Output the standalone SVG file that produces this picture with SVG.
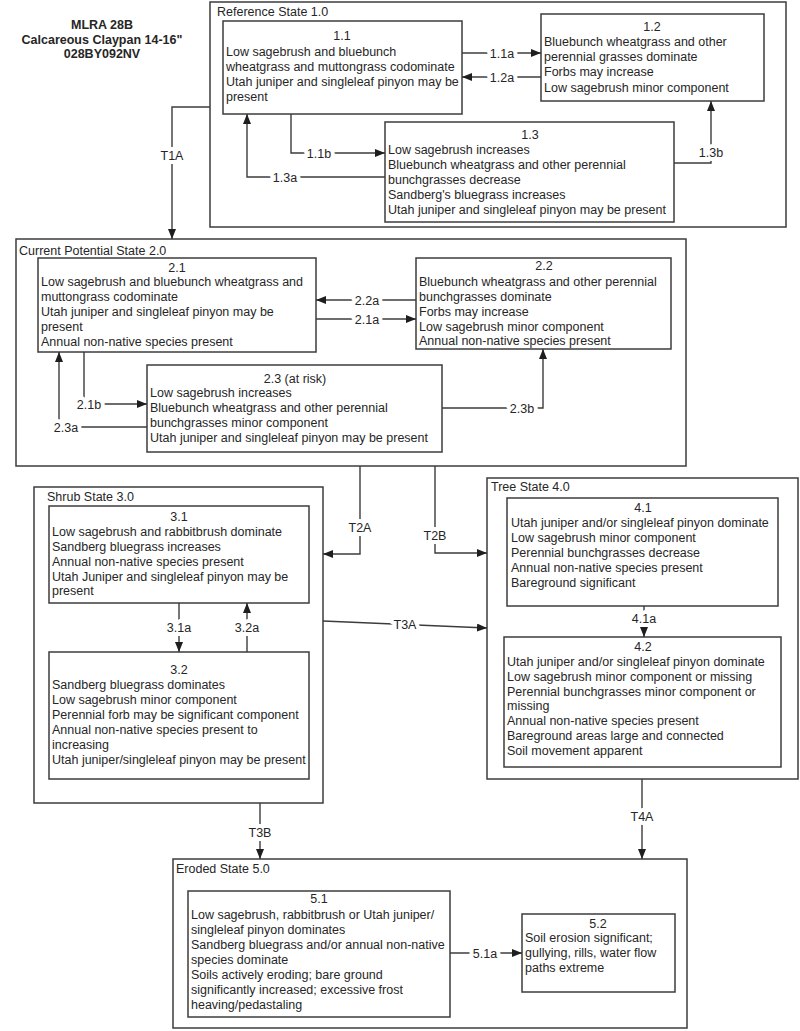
<svg xmlns="http://www.w3.org/2000/svg" width="800" height="1031" viewBox="0 0 800 1031">
<style>
  .bg{fill:#fff}
  .state{fill:#fff;stroke:#3c3c3c;stroke-width:1.5}
  .box{fill:#fff;stroke:#3c3c3c;stroke-width:1.5}
  text{font-family:"Liberation Sans",Arial,Helvetica,sans-serif;font-size:12.5px;fill:#262626}
  .mid{text-anchor:middle}
  .title{font-weight:bold;text-anchor:middle}
  .lbl{text-anchor:middle;stroke:#fff;stroke-width:8px;paint-order:stroke;stroke-linejoin:round}
  .con{fill:none;stroke:#3c3c3c;stroke-width:1.4}
  .arr{fill:none;stroke:#3c3c3c;stroke-width:1.4;marker-end:url(#ah)}
</style>
<defs>
  <marker id="ah" viewBox="0 0 10 8" refX="10" refY="4" markerWidth="10" markerHeight="8" markerUnits="userSpaceOnUse" orient="auto">
    <path d="M0,0 L10,4 L0,8 Z" fill="#1e1e1e"/>
  </marker>
</defs>
<rect class="bg" x="0" y="0" width="800" height="1031"/>

<g id="title">
  <text class="title" x="102" y="29">MLRA 28B</text>
  <text class="title" x="102" y="44">Calcareous Claypan 14-16"</text>
  <text class="title" x="102" y="58">028BY092NV</text>
</g>

<!-- State containers -->
<g id="state1">
  <rect class="state" x="210" y="2" width="576" height="225"/>
  <text x="217" y="16">Reference State 1.0</text>
</g>
<g id="state2">
  <rect class="state" x="16" y="239" width="670" height="227"/>
  <text x="19" y="255">Current Potential State 2.0</text>
</g>
<g id="state3">
  <rect class="state" x="34" y="487" width="289" height="316"/>
  <text x="47" y="501">Shrub State 3.0</text>
</g>
<g id="state4">
  <rect class="state" x="487" y="478" width="311" height="301"/>
  <text x="491" y="491">Tree State 4.0</text>
</g>
<g id="state5">
  <rect class="state" x="173" y="859" width="514" height="169"/>
  <text x="176" y="873">Eroded State 5.0</text>
</g>

<!-- Community phases -->
<g id="n1_1">
  <rect class="box" x="223" y="21" width="239" height="93"/>
  <text class="mid" x="342" y="40">1.1</text>
  <text x="226" y="56">Low sagebrush and bluebunch</text>
  <text x="226" y="71">wheatgrass and muttongrass codominate</text>
  <text x="226" y="86">Utah juniper and singleleaf pinyon may be</text>
  <text x="226" y="101">present</text>
</g>
<g id="n1_2">
  <rect class="box" x="541" y="14" width="223" height="87"/>
  <text class="mid" x="652" y="31">1.2</text>
  <text x="544" y="46">Bluebunch wheatgrass and other</text>
  <text x="544" y="61">perennial grasses dominate</text>
  <text x="544" y="76">Forbs may increase</text>
  <text x="544" y="92">Low sagebrush minor component</text>
</g>
<g id="n1_3">
  <rect class="box" x="385" y="122" width="289" height="100"/>
  <text class="mid" x="530" y="139">1.3</text>
  <text x="388" y="154">Low sagebrush increases</text>
  <text x="388" y="169">Bluebunch wheatgrass and other perennial</text>
  <text x="388" y="184">bunchgrasses decrease</text>
  <text x="388" y="199">Sandberg's bluegrass increases</text>
  <text x="388" y="214">Utah juniper and singleleaf pinyon may be present</text>
</g>

<g id="n2_1">
  <rect class="box" x="38" y="258" width="278" height="94"/>
  <text class="mid" x="177" y="272">2.1</text>
  <text x="41" y="286">Low sagebrush and bluebunch wheatgrass and</text>
  <text x="41" y="301">muttongrass codominate</text>
  <text x="41" y="316">Utah juniper and singleleaf pinyon may be</text>
  <text x="41" y="331">present</text>
  <text x="41" y="346">Annual non-native species present</text>
</g>
<g id="n2_2">
  <rect class="box" x="416" y="258" width="255" height="91"/>
  <text class="mid" x="544" y="270">2.2</text>
  <text x="419" y="286">Bluebunch wheatgrass and other perennial</text>
  <text x="419" y="301">bunchgrasses dominate</text>
  <text x="419" y="316">Forbs may increase</text>
  <text x="419" y="331">Low sagebrush minor component</text>
  <text x="419" y="345">Annual non-native species present</text>
</g>
<g id="n2_3">
  <rect class="box" x="147" y="365" width="295" height="87"/>
  <text class="mid" x="295" y="383">2.3 (at risk)</text>
  <text x="150" y="397">Low sagebrush increases</text>
  <text x="150" y="412">Bluebunch wheatgrass and other perennial</text>
  <text x="150" y="427">bunchgrasses minor component</text>
  <text x="150" y="442">Utah juniper and singleleaf pinyon may be present</text>
</g>

<g id="n3_1">
  <rect class="box" x="49" y="506" width="260" height="97"/>
  <text class="mid" x="179" y="521">3.1</text>
  <text x="52" y="536">Low sagebrush and rabbitbrush dominate</text>
  <text x="52" y="551">Sandberg bluegrass increases</text>
  <text x="52" y="566">Annual non-native species present</text>
  <text x="52" y="581">Utah Juniper and singleleaf pinyon may be</text>
  <text x="52" y="595">present</text>
</g>
<g id="n3_2">
  <rect class="box" x="49" y="652" width="260" height="127"/>
  <text class="mid" x="179" y="674">3.2</text>
  <text x="52" y="689">Sandberg bluegrass dominates</text>
  <text x="52" y="704">Low sagebrush minor component</text>
  <text x="52" y="719">Perennial forb may be significant component</text>
  <text x="52" y="734">Annual non-native species present to</text>
  <text x="52" y="749">increasing</text>
  <text x="52" y="764">Utah juniper/singleleaf pinyon may be present</text>
</g>

<g id="n4_1">
  <rect class="box" x="507" y="498" width="271" height="108"/>
  <text class="mid" x="643" y="512">4.1</text>
  <text x="511" y="527">Utah juniper and/or singleleaf pinyon dominate</text>
  <text x="511" y="542">Low sagebrush minor component</text>
  <text x="511" y="557">Perennial bunchgrasses decrease</text>
  <text x="511" y="572">Annual non-native species present</text>
  <text x="511" y="587">Bareground significant</text>
</g>
<g id="n4_2">
  <rect class="box" x="504" y="637" width="277" height="130"/>
  <text class="mid" x="643" y="651">4.2</text>
  <text x="507" y="666">Utah juniper and/or singleleaf pinyon dominate</text>
  <text x="507" y="681">Low sagebrush minor component or missing</text>
  <text x="507" y="696">Perennial bunchgrasses minor component or</text>
  <text x="507" y="710">missing</text>
  <text x="507" y="725">Annual non-native species present</text>
  <text x="507" y="740">Bareground areas large and connected</text>
  <text x="507" y="755">Soil movement apparent</text>
</g>

<g id="n5_1">
  <rect class="box" x="188" y="891" width="262" height="126"/>
  <text class="mid" x="319" y="903">5.1</text>
  <text x="191" y="919">Low sagebrush, rabbitbrush or Utah juniper/</text>
  <text x="191" y="934">singleleaf pinyon dominates</text>
  <text x="191" y="949">Sandberg bluegrass and/or annual non-native</text>
  <text x="191" y="964">species dominate</text>
  <text x="191" y="979">Soils actively eroding; bare ground</text>
  <text x="191" y="994">significantly increased; excessive frost</text>
  <text x="191" y="1009">heaving/pedastaling</text>
</g>
<g id="n5_2">
  <rect class="box" x="522" y="914" width="153" height="78"/>
  <text class="mid" x="598" y="928">5.2</text>
  <text x="525" y="942">Soil erosion significant;</text>
  <text x="525" y="957">gullying, rills, water flow</text>
  <text x="525" y="972">paths extreme</text>
</g>

<!-- Connectors -->
<g id="connectors">
  <path class="arr" d="M462,53 H541"/>
  <path class="arr" d="M541,77 H462"/>
  <path class="arr" d="M291,114 V153 H385"/>
  <path class="arr" d="M385,177 H247 V114"/>
  <path class="arr" d="M674,163 H711 V101"/>
  <path class="arr" d="M210,107 H172 V239"/>

  <path class="arr" d="M416,300 H316"/>
  <path class="arr" d="M316,319 H416"/>
  <path class="arr" d="M84,352 V404 H147"/>
  <path class="arr" d="M147,427 H59 V352"/>
  <path class="arr" d="M442,408 H543 V349"/>

  <path class="arr" d="M360,466 V554 H323"/>
  <path class="arr" d="M435,466 V553 H487"/>

  <path class="arr" d="M179,603 V652"/>
  <path class="arr" d="M247,652 V603"/>
  <path class="arr" d="M323,621 L487,628"/>
  <path class="arr" d="M644,606 V637"/>

  <path class="arr" d="M260,803 V859"/>
  <path class="arr" d="M642,779 V859"/>
  <path class="arr" d="M450,953 H522"/>

  <text class="lbl" x="502" y="57.5">1.1a</text>
  <text class="lbl" x="502" y="81.5">1.2a</text>
  <text class="lbl" x="319" y="157.5">1.1b</text>
  <text class="lbl" x="285" y="181.5">1.3a</text>
  <text class="lbl" x="711" y="156.5">1.3b</text>
  <text class="lbl" x="172" y="159.5">T1A</text>

  <text class="lbl" x="367" y="304.5">2.2a</text>
  <text class="lbl" x="367" y="323.5">2.1a</text>
  <text class="lbl" x="89" y="408.5">2.1b</text>
  <text class="lbl" x="66" y="431.5">2.3a</text>
  <text class="lbl" x="522" y="412.5">2.3b</text>

  <text class="lbl" x="360" y="531.5">T2A</text>
  <text class="lbl" x="435" y="539.5">T2B</text>

  <text class="lbl" x="179" y="631.5">3.1a</text>
  <text class="lbl" x="247" y="631.5">3.2a</text>
  <text class="lbl" x="405" y="628.5">T3A</text>
  <text class="lbl" x="644" y="622.5">4.1a</text>

  <text class="lbl" x="260" y="836.5">T3B</text>
  <text class="lbl" x="642" y="820.5">T4A</text>
  <text class="lbl" x="485" y="957.5">5.1a</text>
</g>
</svg>
